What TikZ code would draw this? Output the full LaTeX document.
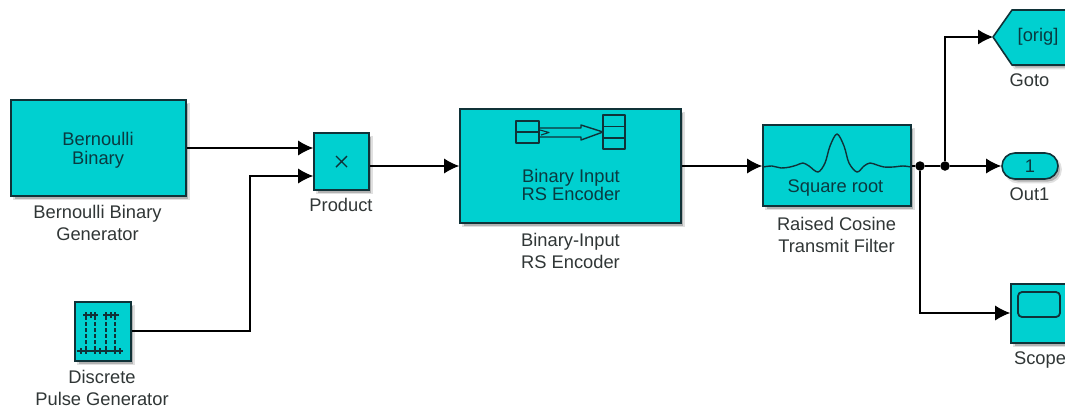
\documentclass[tikz,border=0pt]{standalone}
\usepackage{fontspec}
\setmainfont{Liberation Sans}
\usetikzlibrary{arrows.meta,shadows,positioning}
\definecolor{blockfill}{HTML}{00D0D0}
\definecolor{blockline}{HTML}{103238}
\definecolor{labeltext}{HTML}{303636}
\definecolor{innertext}{HTML}{0A3A40}
\tikzset{
  softshadow/.style={general shadow={shadow xshift=3pt,shadow yshift=-3.5pt,fill=black!30,draw=black!12,line width=1.8pt}},
  block/.style={draw=blockline,line width=1.6pt,fill=blockfill,rectangle,inner sep=0pt,softshadow,text=innertext,align=center},
  inner label/.style={inner sep=0pt,text=innertext,align=center,font=\fontsize{18.3}{18}\selectfont},
  caption/.style={inner sep=0pt,text=labeltext,align=center,font=\fontsize{18.3}{22}\selectfont},
  wire/.style={draw=black,line width=1.2pt,-{Latex[length=15pt,width=15pt]}},
  plainwire/.style={draw=black,line width=1.2pt},
  junction/.style={circle,fill=black,inner sep=0pt,minimum size=9.5pt},
  icon/.style={draw=blockline,line width=1.5pt,line join=round},
  pulse/.style={draw=blockline,line width=1.3pt}
}
\begin{document}
\begin{tikzpicture}[x=1pt,y=-1pt]
\clip (0,0) rectangle (1065,408);
\fill[white] (0,0) rectangle (1065,408);

% blocks
\node[block,minimum width=175pt,minimum height=96pt] (bern) at (98.5,148) {};
\node[block,minimum width=55pt,minimum height=57pt] (prod) at (341.5,161.5) {};
\node[block,minimum width=221pt,minimum height=114pt] (enc) at (570.5,166) {};
\node[block,minimum width=148pt,minimum height=81pt] (filt) at (837,165.5) {};
\node[block,minimum width=56pt,minimum height=59pt] (pgen) at (103,331.5) {};
\node[block,minimum width=59pt,minimum height=59pt] (scope) at (1040.5,313.5) {};
\node[block,rounded corners=13pt,minimum width=56pt,minimum height=26pt] (out) at (1030,166) {};
\filldraw[draw=black!12,fill=black!30,line width=1.8pt] (996,40.5) -- (1015,13.5) -- (1080,13.5) -- (1080,68.5) -- (1015,68.5) -- cycle;
\filldraw[draw=blockline,line width=1.6pt,fill=blockfill,line join=round] (993,37) -- (1012,10) -- (1078,10) -- (1078,65) -- (1012,65) -- cycle;
\coordinate (gotoTip) at (993,37);

% block texts
\node[inner label,font=\fontsize{18.3}{19}\selectfont] (bernT) at (98,150) {Bernoulli\\Binary};
\node[inner label] (encT) at (571,185) {Binary Input\\RS Encoder};
\node[inner label] (filtT) at (835.5,188) {Square root};
\node[inner label] (gotoT) at (1038,37) {[orig]};
\node[inner label] (outT) at (1030,166) {1};

% product x
\draw[icon,line width=1.4pt] (336,156) -- (347,167) (347,156) -- (336,167);

% encoder icon
\draw[icon] (516,121) rectangle (539,143) (516,132) -- (539,132);
\draw[icon] (603,115) rectangle (625,149) (603,126.5) -- (625,126.5) (603,138) -- (625,138);
\draw[icon,line width=1.4pt] (539,128) -- (581,128) -- (581,125) -- (603,132) -- (581,140) -- (581,137) -- (539,137);
\draw[icon,line width=1.1pt] (540,130) -- (549,132.5) -- (541,135);

% filter icon
\draw[icon,line width=1.4pt] plot[smooth,tension=0.55] coordinates {(763,167) (772,166) (781,168) (790,167) (797,165) (803,163) (809,166) (818,172) (825,163) (830,146) (837,134) (844,146) (849,163) (857,172) (864,166) (870,163) (877,165) (884,167) (893,167) (903,166) (911,167)};

% pulse icon
\draw[pulse,dash pattern=on 4pt off 2pt] (86,316) -- (86,351) (95,316) -- (95,351) (106,316) -- (106,351) (115,316) -- (115,351);
\draw[pulse] (83,315) -- (98,315) (103,315) -- (119,315);
\draw[pulse] (77,351) -- (123,351);
\draw[pulse] (86,312) -- (86,318) (91,312) -- (91,318) (95,312) -- (95,318) (106,312) -- (106,318) (111,312) -- (111,318) (115,312) -- (115,318);
\draw[pulse] (81,348) -- (81,354) (86,348) -- (86,354) (95,348) -- (95,354) (100,348) -- (100,354) (106,348) -- (106,354) (115,348) -- (115,354) (120,348) -- (120,354);

% scope icon
\draw[icon,rounded corners=4pt,line width=1.8pt] (1018,292) rectangle (1060,317);

% captions
\node[caption] (bernL) at (97.5,223) {Bernoulli Binary\\Generator};
\node[caption] (prodL) at (341,205) {Product};
\node[caption] (encL) at (570.5,251) {Binary-Input\\RS Encoder};
\node[caption] (filtL) at (836.5,235) {Raised Cosine\\Transmit Filter};
\node[caption] (pgenL) at (102,388) {Discrete\\Pulse Generator};
\node[caption] (gotoL) at (1029.5,80) {Goto};
\node[caption] (outL) at (1029.5,194) {Out1};
\node[caption] (scopeL) at (1040,360) {Scope};

% wires
\coordinate (pIn1) at (prod.west |- 0,148);
\coordinate (pIn2) at (prod.west |- 0,176);
\coordinate (bernOut) at (bern.east |- 0,148);
\coordinate (pgenOut) at (pgen.east |- 0,331);
\coordinate (bendA) at (250,331);
\coordinate (bendB) at (250,176);
\coordinate (prodOut) at (prod.east |- 0,166);
\coordinate (encIn) at (enc.west |- 0,166);
\coordinate (encOut) at (enc.east |- 0,166);
\coordinate (filtIn) at (filt.west |- 0,166);
\coordinate (filtOut) at (filt.east |- 0,166);
\node[junction] (j1) at (920,166) {};
\node[junction] (j2) at (945,166) {};
\coordinate (bendC) at (945,37);
\coordinate (bendD) at (920,313);
\coordinate (scopeIn) at (scope.west |- 0,313);
\draw[wire] (bernOut) -- (pIn1);
\draw[wire] (pgenOut) -- (bendA) -- (bendB) -- (pIn2);
\draw[wire] (prodOut) -- (encIn);
\draw[wire] (encOut) -- (filtIn);
\draw[plainwire] (filtOut) -- (j1);
\draw[plainwire] (j1) -- (j2);
\draw[wire] (j2) -- (out.west);
\draw[wire] (j2) -- (bendC) -- (gotoTip);
\draw[wire] (j1) -- (bendD) -- (scopeIn);
\end{tikzpicture}
\end{document}
